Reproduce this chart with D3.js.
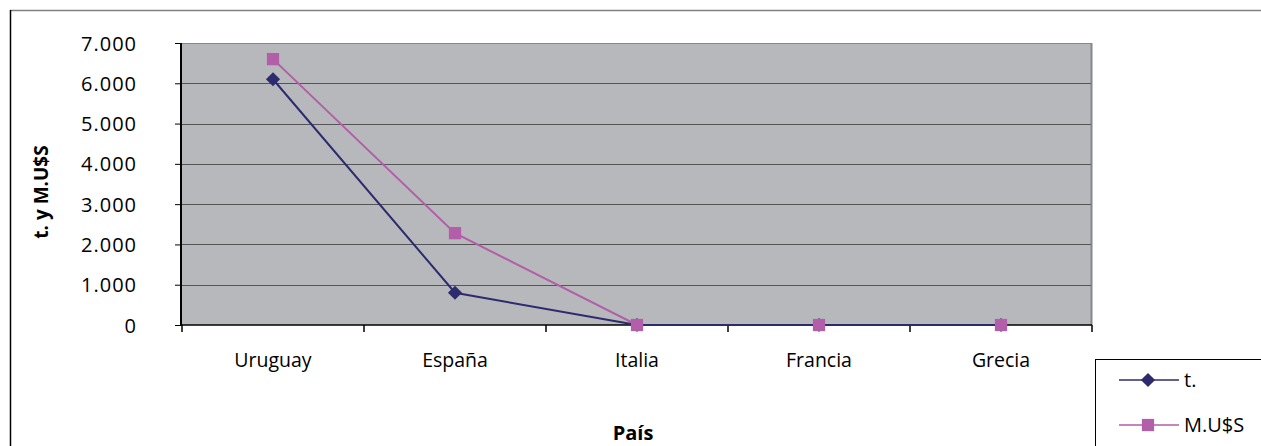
<!DOCTYPE html>
<html><head><meta charset="utf-8">
<script src="https://cdn.jsdelivr.net/npm/d3@7"></script>
<style>body{margin:0;background:#fff}svg{display:block}text{font-family:"Open Sans",sans-serif}</style>
</head><body><svg id="c" width="1261" height="446"></svg>
<script>
const categories = ["Uruguay","España","Italia","Francia","Grecia"];
const seriesT = [6100, 800, 0, 0, 0];
const seriesM = [6600, 2280, 0, 0, 0];
const seriesNames = ["t.","M.U$S"];
const yTicks = [0,1000,2000,3000,4000,5000,6000,7000];

const svg = d3.select("#c");
const L=182,R=1092,T=43,B=325;
// outer border
svg.append("line").attr("x1",10).attr("x2",1261).attr("y1",10.5).attr("y2",10.5).attr("stroke","#808080").attr("stroke-width",1.5);
svg.append("line").attr("x1",10.5).attr("x2",10.5).attr("y1",10).attr("y2",446).attr("stroke","#000").attr("stroke-width",1.5);

const x = d3.scaleBand().domain(categories).range([L,R]);
const y = d3.scaleLinear().domain([0,7000]).range([B,T]);
const fmt = d => d===0?"0":d3.format(",")(d).replace(/,/g,".");

svg.append("rect").attr("x",L).attr("y",T).attr("width",R-L).attr("height",B-T).attr("fill","#b7b8bc");
svg.append("line").attr("x1",R-0.5).attr("x2",R-0.5).attr("y1",T).attr("y2",B).attr("stroke","#86878b").attr("stroke-width",2);
svg.append("line").attr("x1",L).attr("x2",R).attr("y1",T+0.5).attr("y2",T+0.5).attr("stroke","#86878b").attr("stroke-width",1);
svg.append("g").selectAll("line").data(yTicks.filter(d=>d>0&&d<7000)).join("line")
  .attr("x1",L).attr("x2",R-1).attr("y1",d=>Math.round(y(d))+0.5).attr("y2",d=>Math.round(y(d))+0.5)
  .attr("stroke","#555").attr("stroke-width",1);

// y axis
const ya = svg.append("g").attr("transform",`translate(${L},0)`)
  .call(d3.axisLeft(y).tickValues(yTicks).tickFormat(fmt).tickSize(7).tickPadding(38));
ya.select(".domain").attr("stroke","#000").attr("stroke-width",2).attr("d",`M-1,${T}V${B}`);
ya.selectAll(".tick line").attr("stroke","#000");
ya.selectAll("text").attr("font-size",20).attr("letter-spacing","1px").attr("fill","#000").attr("dy","0.35em");

// x axis
const xa = svg.append("g").attr("transform",`translate(0,${B})`);
xa.append("line").attr("x1",L).attr("x2",R).attr("y1",0).attr("y2",0).attr("stroke","#000").attr("stroke-width",1.5);
const bounds = categories.map((c,i)=>x(c)).concat([R]);
xa.selectAll("line.tk").data(bounds).join("line").attr("class","tk")
  .attr("x1",d=>d).attr("x2",d=>d).attr("y1",0).attr("y2",7).attr("stroke","#000").attr("stroke-width",1.5);
xa.selectAll("text").data(categories).join("text")
  .attr("x",d=>x(d)+x.bandwidth()/2).attr("y",42).attr("text-anchor","middle")
  .attr("font-size",19.5).attr("fill","#000").text(d=>d);

// titles
svg.append("text").attr("transform","translate(48,192) rotate(-90)").attr("text-anchor","middle")
  .attr("font-size",19).attr("font-weight","bold").text("t. y M.U$S");
svg.append("text").attr("x",633).attr("y",440).attr("text-anchor","middle")
  .attr("font-size",20).attr("font-weight","bold").text("País");

// lines
const cx = d=>x(d)+x.bandwidth()/2;
const line = d3.line().x(d=>cx(d[0])).y(d=>y(d[1]));
const colT="#2e2a6e", colM="#b25ea8";
svg.append("path").datum(categories.map((c,i)=>[c,seriesM[i]])).attr("d",line).attr("fill","none").attr("stroke",colM).attr("stroke-width",2);
svg.append("path").datum(categories.map((c,i)=>[c,seriesT[i]])).attr("d",line).attr("fill","none").attr("stroke",colT).attr("stroke-width",2);
const sq = d3.symbol(d3.symbolSquare,150), dm = d3.symbol(d3.symbolSquare,100);
svg.append("g").selectAll("path").data(categories.map((c,i)=>[c,seriesT[i]])).join("path")
  .attr("d",dm).attr("transform",d=>`translate(${cx(d[0])},${y(d[1])}) rotate(45)`).attr("fill",colT);
svg.append("g").selectAll("path").data(categories.map((c,i)=>[c,seriesM[i]])).join("path")
  .attr("d",sq).attr("transform",d=>`translate(${cx(d[0])},${y(d[1])})`).attr("fill",colM);

// legend
svg.append("rect").attr("x",1095.5).attr("y",359.5).attr("width",200).attr("height",120).attr("fill","#fff").attr("stroke","#000").attr("stroke-width",1);
const lg = svg.append("g");
[[seriesNames[0],colT,dm,380,45],[seriesNames[1],colM,sq,425,0]].forEach(([n,c,s,yy,r])=>{
  lg.append("line").attr("x1",1119).attr("x2",1179).attr("y1",yy).attr("y2",yy).attr("stroke",c).attr("stroke-width",1.5);
  lg.append("path").attr("d",s).attr("transform",`translate(1148,${yy}) rotate(${r})`).attr("fill",c);
  lg.append("text").attr("x",1184).attr("y",yy).attr("dy","0.35em").attr("font-size",20).attr("fill","#000").text(n);
});
</script></body></html>
